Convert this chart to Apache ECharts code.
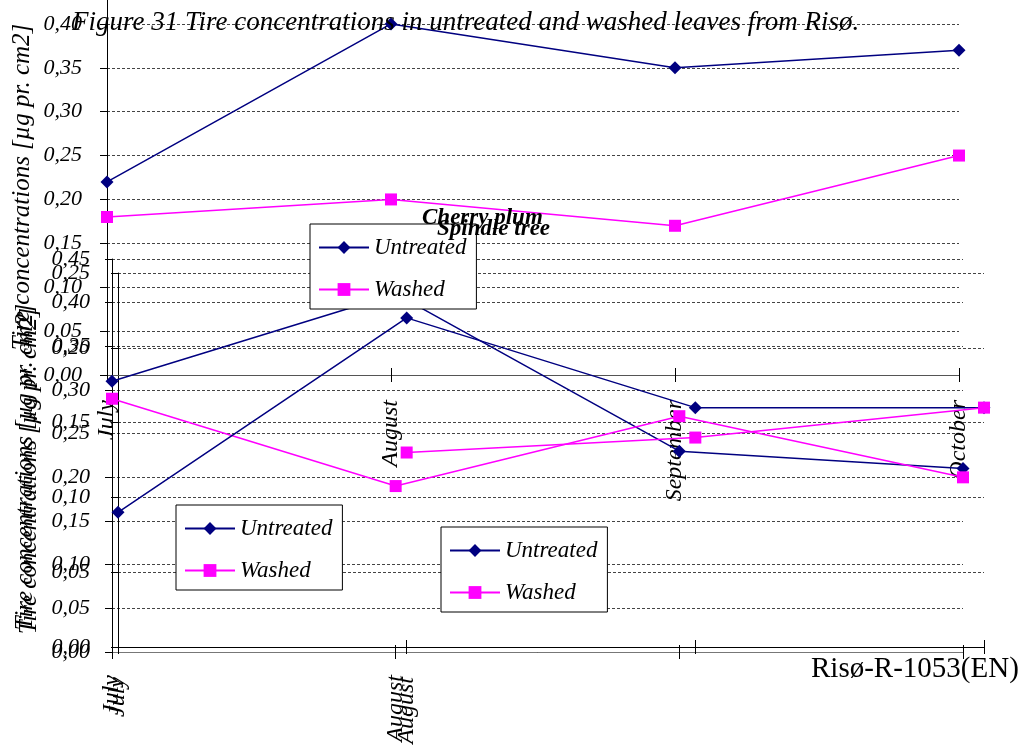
<!DOCTYPE html>
<html><head><meta charset="utf-8">
<script src="https://cdn.jsdelivr.net/npm/echarts@6/dist/echarts.min.js"></script>
<style>html,body{margin:0;padding:0;background:#fff}#c{width:1027px;height:747px}</style>
</head><body><div id="c"></div>
<script>
// ---- data ----
const months = ['July', 'August', 'September', 'October'];
const seriesNames = ['Untreated', 'Washed'];
// top chart (title cut off)
const topUntreated = [0.22, 0.40, 0.35, 0.37];
const topWashed = [0.18, 0.20, 0.17, 0.25];
// Cherry plum
const cherryUntreated = [0.31, 0.41, 0.23, 0.21];
const cherryWashed = [0.29, 0.19, 0.27, 0.20];
// Spindle tree
const spindleUntreated = [0.09, 0.22, 0.16, 0.16];
const spindleWashed = [null, 0.13, 0.14, 0.16];
const chartTitles = ['Cherry plum', 'Spindle tree'];
const yTitle = 'Tire concentrations [µg pr. cm2]';
const caption = 'Figure 31 Tire concentrations in untreated and washed leaves from Risø.';
const footer = 'Risø-R-1053(EN)';

const FONT = 'Liberation Serif';
const NAVY = '#000080', MAG = '#ff00ff';
const fmt = v => v.toFixed(2).replace('.', ',');

function xAx(gridIndex, margin, axisColor, showAll) {
  return {
    type: 'category', gridIndex, data: months, boundaryGap: false,
    axisLine: {lineStyle: {color: axisColor, width: 1}},
    axisTick: {show: true, length: 7, inside: false, lineStyle: {color: '#000'}},
    axisLabel: {rotate: 90, margin, color: '#000', fontFamily: FONT, fontStyle: 'italic', fontSize: 24,
      formatter: (v, i) => (showAll || i < 2) ? v : ''},
    splitLine: {show: false}
  };
}
// companion axis giving the inner half of the crossing tick marks
function xAxIn(gridIndex) {
  return {
    type: 'category', gridIndex, data: months, boundaryGap: false, position: 'bottom',
    axisLine: {show: false},
    axisTick: {show: true, length: 7, inside: true, lineStyle: {color: '#000'}},
    axisLabel: {show: false}, splitLine: {show: false}
  };
}
function yAx(gridIndex, max, margin) {
  return {
    type: 'value', gridIndex, min: 0, max, interval: 0.05,
    axisLine: {show: true, lineStyle: {color: '#000', width: 1}},
    axisTick: {show: true, length: 7, lineStyle: {color: '#000'}},
    axisLabel: {margin, color: '#000', fontFamily: FONT, fontStyle: 'italic', fontSize: 22, formatter: fmt},
    splitLine: {show: true, lineStyle: {color: '#444', width: 1, type: [3, 2]}}
  };
}
function ser(name, data, gi) {
  const isU = name === 'Untreated';
  const c = isU ? NAVY : MAG;
  return {
    type: 'line', name, data, xAxisIndex: gi, yAxisIndex: gi,
    symbol: isU ? 'diamond' : 'rect', symbolSize: isU ? 13 : 12,
    lineStyle: {color: c, width: 1.5}, itemStyle: {color: c},
    connectNulls: false, animation: false, z: 2
  };
}
function leg(left, top) {
  return {
    data: seriesNames, orient: 'vertical', left, top,
    itemWidth: 50, itemHeight: 16, itemGap: 19,
    padding: [12, 10, 8, 8],
    backgroundColor: '#fff', borderColor: '#000', borderWidth: 1,
    textStyle: {fontFamily: FONT, fontStyle: 'italic', fontSize: 23, color: '#000'},
    selectedMode: false, z: 4
  };
}
function yName(x, y) {
  return {type: 'text', x, y, rotation: Math.PI / 2, z: 3,
    style: {text: yTitle, fontFamily: FONT, fontStyle: 'italic', fontSize: 25, fill: '#000',
      align: 'center', verticalAlign: 'middle'}};
}
const gridBase = {outerBoundsMode: 'none', containLabel: false};

const chart = echarts.init(document.getElementById('c'), null, {renderer: 'canvas'});
chart.setOption({
  animation: false,
  backgroundColor: '#fff',
  grid: [
    Object.assign({left: 107, top: -20, width: 852, height: 395}, gridBase),
    Object.assign({left: 112, top: 259, width: 851, height: 393}, gridBase),
    Object.assign({left: 118, top: 273, width: 866, height: 374}, gridBase)
  ],
  xAxis: [xAx(0, 25, '#555', true), xAx(1, 23, '#777', false), xAx(2, 30, '#000', false),
          xAxIn(0), xAxIn(1), xAxIn(2)],
  yAxis: [yAx(0, 0.45, 25), yAx(1, 0.45, 22), yAx(2, 0.25, 28)],
  legend: [leg(310, 224), leg(176, 505), leg(441, 527)],
  series: [
    ser('Untreated', topUntreated, 0), ser('Washed', topWashed, 0),
    ser('Untreated', cherryUntreated, 1), ser('Washed', cherryWashed, 1),
    ser('Untreated', spindleUntreated, 2), ser('Washed', spindleWashed, 2)
  ],
  graphic: [
    yName(22, 187), yName(25, 467), yName(29, 471),
    {type: 'text', left: 72, top: 9, z: 10, style: {text: caption, fontFamily: FONT, fontStyle: 'italic', fontSize: 27, fill: '#000'}},
    {type: 'text', left: 811, top: 655, z: 10, style: {text: footer, fontFamily: FONT, fontSize: 29, fill: '#000'}},
    {type: 'text', left: 422, top: 207, z: 10, style: {text: chartTitles[0], fontFamily: FONT, fontStyle: 'italic', fontWeight: 'bold', fontSize: 23, fill: '#000'}},
    {type: 'text', left: 437, top: 218, z: 10, style: {text: chartTitles[1], fontFamily: FONT, fontStyle: 'italic', fontWeight: 'bold', fontSize: 23, fill: '#000'}}
  ]
});
</script>
</body></html>
